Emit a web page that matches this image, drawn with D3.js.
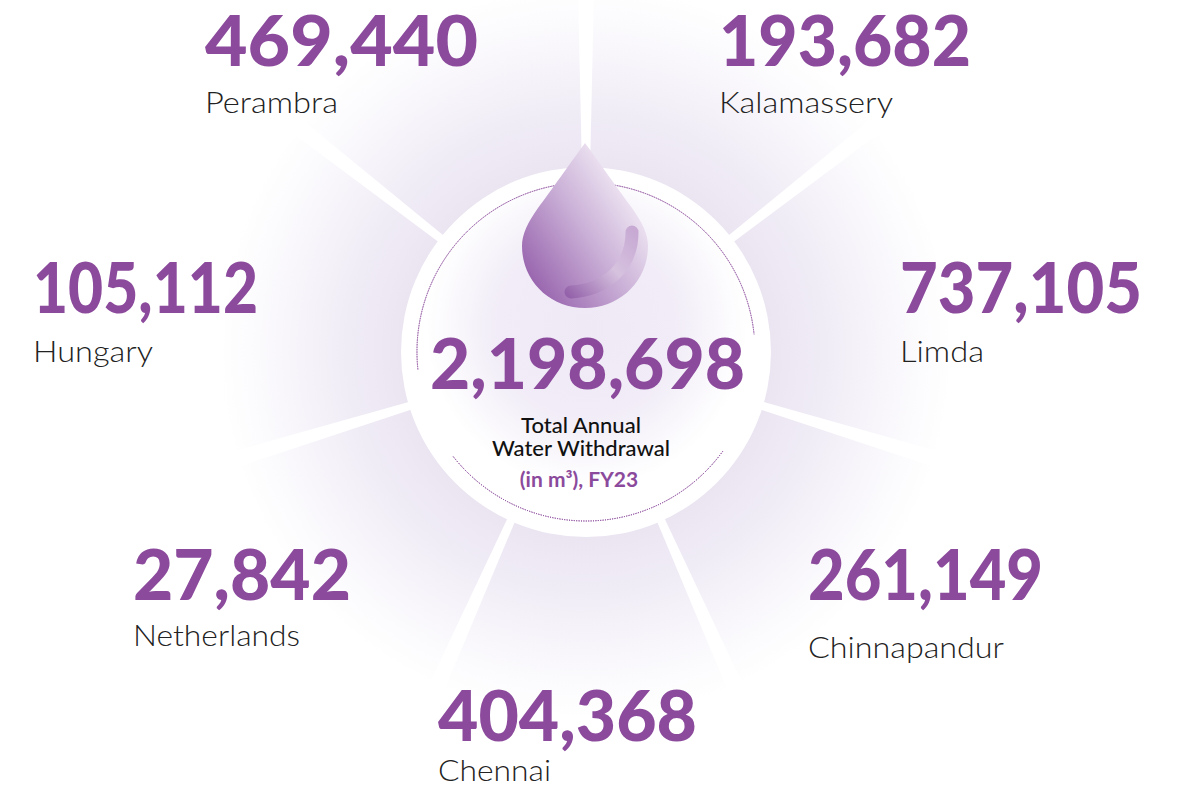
<!DOCTYPE html>
<html>
<head>
<meta charset="utf-8">
<script src="https://cdn.jsdelivr.net/npm/d3@7/dist/d3.min.js"></script>
<style>
  html, body { margin: 0; padding: 0; background: #fff; }
  svg { display: block; }
  text { font-family: Lato, "Open Sans", sans-serif; }
</style>
</head>
<body>
<div id="chart"></div>
<script>
// values
var sites = ["Perambra", "Kalamassery", "Limda", "Chinnapandur", "Chennai", "Netherlands", "Hungary"];
var withdrawals = [469440, 193682, 737105, 261149, 404368, 27842, 105112];
var totalLines = ["Total Annual", "Water Withdrawal"];
var totalUnit = "(in m\u00B3), FY23";

// spokes, degrees clockwise from the top
var spokeDegrees = [0, 52, 107, 156, 204, 253, 308, 360];

// text placement, same order as sites
var numX = [205, 719, 900, 808, 438, 133, 33];
var numY = [66, 66, 313, 600, 741, 600, 313];
var numW = [273, 252, 242, 235, 259, 218, 225];
var labelY = [113, 113, 362, 658, 781, 646, 362];
var labelW = [133, 174, 84, 196, 113, 167, 120];

var width = 1180, height = 789,
    cx = 586, cy = 352,
    discR = 185, ringR = 169,
    purple = "#8b4a9c";

var fmt = d3.format(",");
var rad = function(d){ return d * Math.PI / 180; };

var svg = d3.select("#chart").append("svg")
  .attr("width", width)
  .attr("height", height);

var defs = svg.append("defs");

function addStops(grad, stops){
  stops.forEach(function(s){
    grad.append("stop").attr("offset", s[0]).attr("stop-color", s[1]);
  });
}

addStops(defs.append("radialGradient")
  .attr("id", "fade")
  .attr("gradientUnits", "userSpaceOnUse")
  .attr("cx", 0).attr("cy", 0).attr("r", 385),
  [[0.48, "#ebe5f2"], [0.62, "#f0ecf6"], [0.78, "#f8f6fb"], [0.95, "#ffffff"]]);

addStops(defs.append("radialGradient")
  .attr("id", "glow")
  .attr("gradientUnits", "userSpaceOnUse")
  .attr("cx", 0).attr("cy", -25).attr("r", 160),
  [[0, "#efe9f6"], [0.55, "#f1ecf7"], [1, "#ffffff"]]);

addStops(defs.append("linearGradient")
  .attr("id", "dropFill")
  .attr("x1", 0.1).attr("y1", 0.85).attr("x2", 0.85).attr("y2", 0.2),
  [[0, "#9a67af"], [0.5, "#c9aed6"], [1, "#f4eef7"]]);

addStops(defs.append("linearGradient")
  .attr("id", "shineFill")
  .attr("gradientUnits", "userSpaceOnUse")
  .attr("x1", -21).attr("y1", -60).attr("x2", 46).attr("y2", -124),
  [[0, "#9462aa"], [0.55, "#d6c2df"], [1, "#c7a9d3"]]);

var g = svg.append("g").attr("transform", "translate(" + cx + "," + cy + ")");

// sectors, the padding between them leaves the white spokes
var arc = d3.arc()
  .innerRadius(0)
  .outerRadius(385)
  .padAngle(17 / 300)
  .padRadius(300);

g.selectAll(".sector")
  .data(d3.pairs(spokeDegrees))
  .enter()
  .append("path")
  .attr("class", "sector")
  .attr("fill", "url(#fade)")
  .attr("d", function(p){
    return arc({ startAngle: rad(p[0]), endAngle: rad(p[1]) });
  });

g.append("circle").attr("r", discR).attr("fill", "#fff");
g.append("circle").attr("r", discR - 16).attr("fill", "url(#glow)");

// dotted ring, upper part runs behind the drop
var ring = d3.arc().innerRadius(ringR).outerRadius(ringR);
[[-96, 84], [126, 232]].forEach(function(a){
  g.append("path")
    .attr("d", ring({ startAngle: rad(a[0]), endAngle: rad(a[1]) }).split("L")[0].replace(/Z$/, ""))
    .attr("fill", "none")
    .attr("stroke", purple)
    .attr("stroke-width", 1)
    .attr("stroke-dasharray", "1 1.4");
});

// drop
var drop = d3.path();
drop.moveTo(-1, -209);
drop.bezierCurveTo(-15, -190, -36, -160, -48, -144);
drop.bezierCurveTo(-58, -130, -64, -118, -64, -106);
drop.bezierCurveTo(-64, -71, -36, -44, -1, -44);
drop.bezierCurveTo(34, -44, 62, -71, 62, -106);
drop.bezierCurveTo(62, -118, 56, -130, 46, -144);
drop.bezierCurveTo(34, -160, 13, -190, -1, -209);
drop.closePath();
g.append("path").attr("d", drop.toString()).attr("fill", "url(#dropFill)");

var shine = d3.path();
shine.moveTo(46, -120);
shine.bezierCurveTo(46, -85, 20, -62, -15, -60);
g.append("path")
  .attr("d", shine.toString())
  .attr("fill", "none")
  .attr("stroke", "url(#shineFill)")
  .attr("stroke-width", 13)
  .attr("stroke-linecap", "round");

// site figures
svg.selectAll(".num")
  .data(withdrawals)
  .enter()
  .append("text")
  .attr("class", "num")
  .attr("x", function(d, i){ return numX[i]; })
  .attr("y", function(d, i){ return numY[i]; })
  .attr("textLength", function(d, i){ return numW[i]; })
  .attr("lengthAdjust", "spacingAndGlyphs")
  .attr("font-size", 71)
  .attr("font-weight", 900)
  .attr("fill", purple)
  .text(function(d){ return fmt(d); });

svg.selectAll(".site")
  .data(sites)
  .enter()
  .append("text")
  .attr("class", "site")
  .attr("x", function(d, i){ return numX[i]; })
  .attr("y", function(d, i){ return labelY[i]; })
  .attr("textLength", function(d, i){ return labelW[i]; })
  .attr("lengthAdjust", "spacingAndGlyphs")
  .attr("font-size", 30)
  .attr("font-weight", 300)
  .attr("fill", "#222")
  .text(function(d){ return d; });

// centre block, total is the sum of the sites
svg.append("text")
  .attr("x", 430).attr("y", 389)
  .attr("textLength", 315)
  .attr("lengthAdjust", "spacingAndGlyphs")
  .attr("font-size", 71)
  .attr("font-weight", 900)
  .attr("fill", purple)
  .text(fmt(d3.sum(withdrawals)));

svg.selectAll(".total")
  .data(totalLines)
  .enter()
  .append("text")
  .attr("class", "total")
  .attr("x", 581)
  .attr("y", function(d, i){ return 433 + i * 23; })
  .attr("text-anchor", "middle")
  .attr("font-size", 22)
  .attr("font-weight", 500)
  .attr("fill", "#111")
  .text(function(d){ return d; });

svg.append("text")
  .attr("x", 579).attr("y", 487)
  .attr("text-anchor", "middle")
  .attr("font-size", 21)
  .attr("font-weight", 700)
  .attr("fill", purple)
  .text(totalUnit);
</script>
</body>
</html>
